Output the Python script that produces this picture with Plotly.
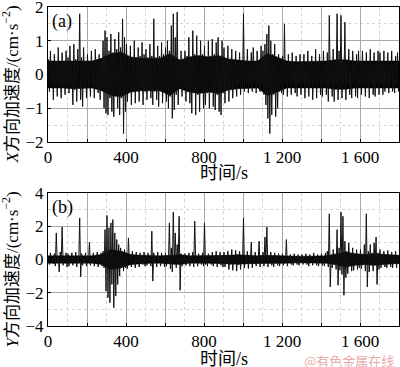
import plotly.graph_objects as go

# time bins (s), 10 s each
bin_width = 10
n_bins = 180
core_width = 50   # core-envelope bins (s)

# ---- panel (a): X-direction acceleration, per-bin positive / negative peaks ----
a_hi = [0.45,0.7,0.35,0.6,0.4,0.8,0.35,0.65,0.4,0.7,
        0.5,0.85,0.4,0.9,0.45,0.75,1.8,0.5,0.8,0.4,
        0.6,0.4,0.7,0.35,0.75,0.45,0.6,0.4,1.0,1.3,
        1.1,0.7,1.2,0.65,1.05,0.75,1.25,0.8,1.65,1.1,
        0.9,0.55,0.85,0.5,1.0,0.5,0.8,0.55,0.95,0.6,
        0.75,0.5,0.9,0.55,1.65,0.5,0.85,0.55,0.95,0.6,
        0.8,1.0,0.7,1.45,1.8,1.1,1.85,0.45,0.7,0.4,
        0.7,0.55,1.1,0.5,1.3,0.6,1.15,0.55,1.0,0.6,
        0.85,0.5,1.0,0.55,1.05,0.6,0.95,1.1,0.55,1.0,
        0.8,0.45,0.85,0.4,0.75,0.4,0.7,0.35,0.65,0.4,
        1.8,0.4,0.75,0.35,0.65,0.8,0.4,0.7,0.35,0.85,
        0.7,0.9,1.2,1.45,1.0,0.6,0.9,0.5,0.6,0.35,
        0.55,1.5,0.35,0.6,0.3,0.65,0.35,0.55,0.3,0.6,
        0.35,0.6,0.3,0.7,0.35,0.55,0.3,0.75,0.35,0.6,
        0.35,0.7,0.3,0.65,1.75,0.35,0.75,0.4,1.8,0.7,
        1.75,0.4,1.55,0.35,0.75,0.3,0.7,0.35,0.6,0.7,
        0.35,0.7,0.3,0.65,0.35,0.75,0.3,0.65,0.35,0.7,
        0.65,0.3,0.7,0.35,0.65,0.3,0.7,0.35,0.55,0.65]
a_lo = [-0.5,-0.35,-0.75,-0.4,-0.65,-0.35,-0.7,-0.4,-0.6,-0.35,
        -0.55,-0.4,-0.9,-0.45,-0.8,-0.4,-0.75,-0.95,-0.4,-0.7,
        -0.4,-0.65,-0.35,-0.7,-0.4,-0.55,-0.75,-0.4,-1.0,-1.15,
        -1.2,-0.7,-1.1,-1.25,-0.65,-1.0,-1.2,-0.7,-1.75,-1.1,
        -0.8,-0.5,-0.9,-0.45,-0.85,-0.5,-0.8,-0.45,-0.9,-0.5,
        -0.75,-0.45,-0.7,-0.9,-0.5,-0.75,-0.95,-0.5,-0.85,-0.5,
        -0.8,-1.0,-0.65,-1.3,-1.05,-0.6,-0.9,-0.4,-0.65,-0.35,
        -0.8,-0.5,-0.85,-1.15,-0.55,-1.2,-0.6,-1.1,-0.55,-1.0,
        -0.9,-0.55,-1.0,-0.5,-0.95,-1.05,-0.6,-1.1,-1.2,-0.55,
        -0.85,-0.45,-0.8,-0.4,-0.7,-0.4,-0.65,-0.35,-0.6,-0.4,
        -0.5,-0.3,-0.55,-0.35,-0.5,-0.3,-0.55,-0.35,-0.5,-0.3,
        -0.6,-0.9,-1.3,-1.75,-1.2,-0.6,-1.25,-1.0,-0.5,-0.55,
        -0.6,-0.3,-0.65,-0.35,-0.6,-0.3,-0.55,-0.65,-0.3,-0.6,
        -0.3,-0.7,-0.35,-0.65,-0.3,-0.75,-0.35,-0.7,-0.3,-0.6,
        -0.65,-0.35,-0.6,-0.8,-0.35,-0.65,-0.8,-0.35,-0.75,-0.4,
        -0.7,-0.35,-0.75,-0.3,-0.6,-0.7,-0.3,-0.65,-0.7,-0.35,
        -0.6,-0.3,-0.65,-0.35,-0.7,-0.3,-0.6,-0.65,-0.3,-0.6,
        -0.3,-0.6,-0.5,-0.35,-0.55,-0.3,-0.5,-0.55,-0.3,-0.5]
# dense core half-width of panel (a), one value per 50 s
a_core = [0.4,0.4,0.42,0.42,0.4,0.48,0.62,0.66,0.52,0.48,
          0.48,0.48,0.62,0.42,0.52,0.56,0.52,0.56,0.46,0.42,
          0.4,0.4,0.62,0.52,0.4,0.38,0.38,0.4,0.4,0.44,
          0.44,0.4,0.4,0.4,0.4,0.4]

# ---- panel (b): Y-direction acceleration ----
b_hi = [0.2,0.4,0.15,0.35,1.6,0.2,0.45,1.95,0.2,0.4,
        0.35,0.15,0.4,0.2,0.45,0.2,2.5,0.35,0.15,0.4,
        0.2,1.05,0.15,0.4,0.2,0.45,0.2,0.4,0.5,1.8,
        2.65,1.9,2.2,2.4,1.6,1.2,0.9,0.7,0.5,0.6,
        0.3,1.3,0.25,0.5,0.2,0.45,0.25,0.4,0.2,0.45,
        0.2,0.4,0.15,1.7,0.4,0.2,0.45,0.15,0.4,0.2,
        0.4,0.2,2.2,0.7,2.85,1.6,0.9,2.6,0.35,0.2,
        0.35,0.15,0.4,0.2,0.45,2.3,0.2,0.35,0.15,0.4,
        2.2,0.2,0.35,0.15,0.45,0.2,0.5,0.2,0.45,0.25,
        0.45,0.25,0.5,0.2,0.6,0.25,0.55,0.3,0.5,0.25,
        2.5,0.2,0.5,0.25,1.05,0.2,0.45,0.2,1.1,0.25,
        0.45,1.35,1.95,0.2,0.45,0.15,0.4,0.2,0.35,0.15,
        0.35,0.15,1.2,0.2,0.3,0.15,0.35,0.2,0.3,0.15,
        0.3,0.15,0.35,0.2,0.3,0.15,0.4,0.2,0.3,0.15,
        0.35,0.2,0.4,0.5,2.75,0.3,0.6,0.35,1.8,0.7,
        2.85,2.6,1.1,0.5,1.0,0.4,0.7,0.35,0.6,0.3,
        0.6,0.3,0.9,2.75,0.5,0.9,0.4,1.0,1.35,0.4,
        0.6,0.25,0.5,0.2,0.55,0.25,0.45,0.2,0.5,0.25]
b_lo = [-0.3,-0.15,-0.25,-0.4,-0.2,-0.75,-0.2,-0.35,-0.15,-0.45,
        -0.4,-0.2,-0.35,-0.15,-0.45,-0.2,-1.05,-0.35,-0.2,-0.4,
        -0.15,-0.35,-0.2,-0.4,-0.15,-0.45,-0.2,-0.4,-0.5,-1.9,
        -2.3,-2.6,-1.5,-2.9,-2.2,-1.5,-1.0,-0.5,-0.7,-0.5,
        -0.55,-0.2,-0.45,-0.25,-0.5,-0.2,-0.45,-0.2,-0.3,-0.4,
        -0.35,-0.15,-0.4,-1.3,-0.2,-0.45,-0.15,-0.4,-0.2,-0.45,
        -0.4,-0.2,-0.55,-0.75,-0.3,-0.5,-0.2,-1.85,-0.4,-0.2,
        -0.35,-0.2,-0.4,-0.15,-0.45,-0.2,-0.4,-0.15,-0.3,-0.4,
        -0.3,-0.4,-0.15,-0.3,-0.4,-0.2,-0.45,-0.2,-0.35,-0.45,
        -0.45,-0.25,-0.6,-0.3,-0.65,-0.25,-0.7,-0.3,-0.6,-0.25,
        -0.5,-0.25,-0.55,-0.2,-0.5,-0.25,-0.4,-0.2,-0.45,-0.2,
        -0.4,-0.15,-0.45,-0.2,-0.35,-0.45,-0.2,-0.35,-0.4,-0.15,
        -0.35,-0.15,-0.4,-0.2,-0.3,-0.35,-0.15,-0.3,-0.35,-0.15,
        -0.3,-0.15,-0.3,-0.4,-0.15,-0.35,-0.2,-0.35,-0.4,-0.15,
        -0.35,-0.4,-0.2,-0.45,-1.65,-0.5,-0.3,-0.6,-1.55,-0.65,
        -0.9,-2.15,-1.1,-0.85,-0.4,-0.7,-0.65,-0.3,-0.6,-0.5,
        -0.55,-0.3,-0.7,-1.65,-0.75,-0.35,-0.7,-0.3,-1.5,-0.6,
        -0.5,-0.25,-0.45,-0.5,-0.2,-0.45,-0.5,-0.2,-0.5,-0.25]
# dense core half-width of panel (b), one value per 50 s
b_core = [0.22,0.22,0.22,0.22,0.22,0.3,0.6,0.5,0.3,0.25,
          0.22,0.22,0.25,0.3,0.22,0.22,0.22,0.22,0.25,0.28,
          0.25,0.22,0.25,0.22,0.22,0.2,0.2,0.2,0.22,0.3,
          0.45,0.35,0.3,0.35,0.3,0.25]

x_tickvals = list(range(0, 1801, 200))
x_ticktext = ["0", "", "400", "", "800", "", "1 200", "", "1 600", ""]
a_ticks = [-2, -1, 0, 1, 2]
b_ticks = [-4, -2, 0, 2, 4]

def zigzag(hi, lo):
    xs, ys = [], []
    for i in range(n_bins):
        t = i * bin_width
        xs += [t + 2.5, t + 7.5]
        ys += [hi[i], lo[i]]
    return xs, ys

def core_band(core):
    ts = [i * core_width + core_width / 2 for i in range(len(core))]
    ts = [0] + ts + [1800]
    c = [core[0]] + core + [core[-1]]
    return ts + ts[::-1], c + [-v for v in c[::-1]]

xa, ya = zigzag(a_hi, a_lo)
xb, yb = zigzag(b_hi, b_lo)
cxa, cya = core_band(a_core)
cxb, cyb = core_band(b_core)

SERIF = "Liberation Serif, Times New Roman, Noto Sans CJK SC, serif"
CJK = "Liberation Serif, Noto Sans CJK SC, serif"

fig = go.Figure()
for (cx, cy, ax, ay) in [(cxa, cya, "x", "y"), (cxb, cyb, "x2", "y2")]:
    fig.add_trace(go.Scatter(x=cx, y=cy, mode="lines", fill="toself", fillcolor="black",
                             line=dict(color="black", width=0.5), xaxis=ax, yaxis=ay, hoverinfo="skip"))
fig.add_trace(go.Scatter(x=xa, y=ya, mode="lines", line=dict(color="#111111", width=1.0),
                         xaxis="x", yaxis="y", hoverinfo="skip"))
fig.add_trace(go.Scatter(x=xb, y=yb, mode="lines", line=dict(color="#111111", width=1.0),
                         xaxis="x2", yaxis="y2", hoverinfo="skip"))

def xax(anchor):
    return dict(range=[0, 1800], tickvals=x_tickvals, ticktext=x_ticktext, anchor=anchor,
                automargin=False, ticklabeloverflow="allow",
                showgrid=True, gridcolor="#a8a8a8", gridwidth=1,
                minor=dict(dtick=100, tick0=0, showgrid=True, gridcolor="#d4d4d4", griddash="dot", gridwidth=1),
                showline=True, mirror=True, linecolor="black", linewidth=1,
                ticks="inside", ticklen=3, tickcolor="black", zeroline=False,
                tickfont=dict(family=SERIF, size=17, color="black"))

def yax(rng, tv, minor_dt, domain, anchor):
    return dict(range=rng, tickvals=tv, domain=domain, anchor=anchor,
                automargin=False, ticklabeloverflow="allow",
                showgrid=True, gridcolor="#a8a8a8", gridwidth=1,
                minor=dict(dtick=minor_dt, showgrid=True, gridcolor="#d4d4d4", griddash="dot", gridwidth=1),
                showline=True, mirror=True, linecolor="black", linewidth=1,
                ticks="inside", ticklen=3, tickcolor="black", zeroline=False,
                tickfont=dict(family=SERIF, size=17, color="black"))

fig.update_layout(
    width=400, height=367, showlegend=False,
    margin=dict(l=48, r=1, t=7, b=41, autoexpand=False),
    plot_bgcolor="white", paper_bgcolor="white",
    xaxis=xax("y"), yaxis=yax([-2, 2], a_ticks, 0.5, [0.5768, 1.0], "x"),
    xaxis2=xax("y2"), yaxis2=yax([-4, 4], b_ticks, 1, [0.0, 0.4169], "x2"),
)

annots = [
    dict(text="(a)", x=0, y=1, xref="x domain", yref="y domain", xanchor="left", yanchor="top",
         xshift=2, yshift=-2, showarrow=False, font=dict(family=SERIF, size=18, color="black")),
    dict(text="(b)", x=0, y=1, xref="x2 domain", yref="y2 domain", xanchor="left", yanchor="top",
         xshift=2, yshift=-2, showarrow=False, font=dict(family=SERIF, size=18, color="black")),
    dict(text="时间/s", x=0.5, y=0, xref="x domain", yref="y domain", xanchor="center", yanchor="middle",
         yshift=-31, showarrow=False, font=dict(family=CJK, size=18, color="black")),
    dict(text="时间/s", x=0.5, y=0, xref="x2 domain", yref="y2 domain", xanchor="center", yanchor="middle",
         yshift=-33, showarrow=False, font=dict(family=CJK, size=18, color="black")),
    dict(text="<i>X</i>方向加速度/(cm·s<sup>−2</sup>)", x=0, y=0.5, xref="paper", yref="y domain",
         xanchor="center", yanchor="middle", xshift=-38, yshift=-10, textangle=-90, showarrow=False,
         font=dict(family=CJK, size=17, color="black")),
    dict(text="<i>Y</i>方向加速度/(cm·s<sup>−2</sup>)", x=0, y=0.5, xref="paper", yref="y2 domain",
         xanchor="center", yanchor="middle", xshift=-38, yshift=-10, textangle=-90, showarrow=False,
         font=dict(family=CJK, size=17, color="black")),
    dict(text="@有色金属在线", x=1, y=0, xref="paper", yref="paper", xanchor="right", yanchor="middle",
         xshift=-3, yshift=-34, showarrow=False, font=dict(family="Noto Sans CJK SC", size=13, color="rgba(225,140,140,0.75)")),
]
fig.update_layout(annotations=annots)

fig.write_html("out.html", config={"displayModeBar": False},
               post_script="document.body.style.margin='0';document.body.style.overflow='hidden';")
